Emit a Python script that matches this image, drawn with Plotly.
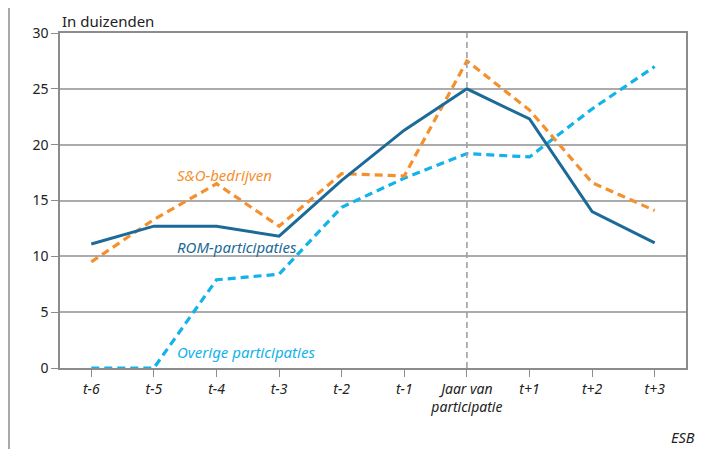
import plotly.graph_objects as go

categories = ["t-6", "t-5", "t-4", "t-3", "t-2", "t-1", "Jaar van<br>participatie", "t+1", "t+2", "t+3"]
rom = [11.1, 12.7, 12.7, 11.8, 16.8, 21.3, 25.0, 22.3, 14.0, 11.2]
so = [9.5, 13.3, 16.5, 12.7, 17.4, 17.2, 27.5, 23.1, 16.6, 14.1]
overige = [0, 0, 7.9, 8.4, 14.4, 17.0, 19.2, 18.9, 23.2, 27.0]
y_ticks = [0, 5, 10, 15, 20, 25, 30]

C_ROM = "#1b6a97"
C_SO = "#f5902e"
C_OV = "#12b2ea"
FONT = "Noto Sans"

xs = list(range(len(categories)))

fig = go.Figure()
fig.add_trace(go.Scatter(x=xs, y=overige, mode="lines",
                         line=dict(color=C_OV, width=3.2, dash="8px,5px"), cliponaxis=False))
fig.add_trace(go.Scatter(x=xs, y=so, mode="lines",
                         line=dict(color=C_SO, width=3.2, dash="8px,5px"), cliponaxis=False))
fig.add_trace(go.Scatter(x=xs, y=rom, mode="lines",
                         line=dict(color=C_ROM, width=3), cliponaxis=False))

fig.update_layout(
    width=704, height=441,
    margin=dict(l=52, r=26, t=25, b=81),
    paper_bgcolor="white", plot_bgcolor="white",
    showlegend=False,
    font=dict(family=FONT, size=13, color="#222"),
    xaxis=dict(
        range=[-0.5, 9.5], tickmode="array", tickvals=xs, ticktext=categories,
        showgrid=False, zeroline=False,
        showline=True, linecolor="#8c8c8c", linewidth=1.5, mirror=True,
        ticks="outside", ticklen=7, tickcolor="#8c8c8c", tickwidth=1.3,
        tickfont=dict(family=FONT, size=14, color="#222", style="italic"),
        fixedrange=True,
    ),
    yaxis=dict(
        range=[0, 30], tickvals=y_ticks,
        showgrid=True, gridcolor="#ababab", gridwidth=1.6, zeroline=False,
        showline=True, linecolor="#8c8c8c", linewidth=1.5, mirror=True,
        ticks="outside", ticklen=7, tickcolor="#8c8c8c", tickwidth=1.3,
        tickfont=dict(family=FONT, size=14, color="#222"),
        fixedrange=True,
    ),
)

# vertical dashed line at the participation year
fig.add_shape(type="line", xref="x", yref="paper", x0=6, x1=6, y0=0, y1=1,
              line=dict(color="#a0a0a0", width=1.6, dash="6px,4px"))

# outer frame lines
for xp in [(9 - 60) / 626, (708 - 60) / 626]:
    fig.add_shape(type="line", xref="paper", yref="paper", x0=xp, x1=xp, y0=-0.3, y1=1.2,
                  line=dict(color="#8c8c8c", width=1.5), layer="above")

fig.add_annotation(text="In duizenden", xref="paper", yref="paper", x=0, y=1.0716,
                   xanchor="left", yanchor="top", showarrow=False,
                   font=dict(family=FONT, size=15, color="#222"))
fig.add_annotation(text="S&O-bedrijven", xref="x", yref="y", x=1.34, y=17.3,
                   xanchor="left", yanchor="middle", showarrow=False,
                   font=dict(family=FONT, size=15, color=C_SO, style="italic"))
fig.add_annotation(text="ROM-participaties", xref="x", yref="y", x=1.34, y=10.8,
                   xanchor="left", yanchor="middle", showarrow=False,
                   font=dict(family=FONT, size=15, color=C_ROM, style="italic"))
fig.add_annotation(text="Overige participaties", xref="x", yref="y", x=1.34, y=1.45,
                   xanchor="left", yanchor="middle", showarrow=False,
                   font=dict(family=FONT, size=15, color=C_OV, style="italic"))
fig.add_annotation(text="ESB", xref="paper", yref="paper", x=(697 - 60) / 626, y=(368 - 437) / 335,
                   xanchor="right", yanchor="middle", showarrow=False,
                   font=dict(family=FONT, size=14.5, color="#222", style="italic"))

fig.write_html("out.html", config={"displayModeBar": False})
